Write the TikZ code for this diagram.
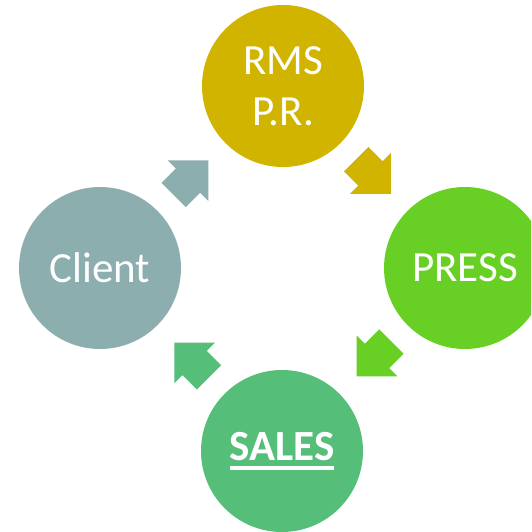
\documentclass[tikz,border=0pt]{standalone}
\usepackage{fontspec}
\setmainfont{Carlito}
\usetikzlibrary{shapes.arrows,calc}

\definecolor{rmsgold}{HTML}{D0B400}
\definecolor{pressgreen}{HTML}{68D024}
\definecolor{salesgreen}{HTML}{55BE78}
\definecolor{clientteal}{HTML}{8CAEAE}

% thick underline, as wide as the word
\newcommand{\heavyul}[1]{\setbox0=\hbox{#1}\rlap{\rule[-9pt]{\wd0}{4pt}}\box0}

\tikzset{
    stage/.style={circle, fill=#1, draw=none, minimum size=162pt, inner sep=0pt,
        text=white, align=center, font=\fontsize{43}{51}\selectfont},
    flow/.style={single arrow, fill=#1, draw=none, minimum height=49pt,
        inner xsep=0pt, inner ysep=17pt, single arrow head extend=11.5pt,
        single arrow tip angle=90, anchor=tip}
}

\begin{document}
\begin{tikzpicture}[x=1pt, y=-1pt]
        \clip (0,0) rectangle (531,532);

        % Four stages round the cycle
        \node (rms) [stage=rmsgold] at (283, 86) {RMS\\P.R.};
        \node (press) [stage=pressgreen] at (465, 268) {PRESS};
        \node (sales) [stage=salesgreen] at (282, 451) {\heavyul{\bfseries SALES}};
        \node (client) [stage=clientteal] at (100, 268) {Client};

        % Block arrows between the stages, tip just past the midpoint
        \node (clienttorms) [flow=clientteal, rotate=45] at ($(client)!0.5!(rms)!24pt!(rms)$) {};
        \node (rmstopress) [flow=rmsgold, rotate=-45] at ($(rms)!0.5!(press)!24pt!(press)$) {};
        \node (presstosales) [flow=pressgreen, rotate=-135] at ($(press)!0.5!(sales)!24pt!(sales)$) {};
        \node (salestoclient) [flow=salesgreen, rotate=135] at ($(sales)!0.5!(client)!24pt!(client)$) {};

    \end{tikzpicture}
\end{document}
